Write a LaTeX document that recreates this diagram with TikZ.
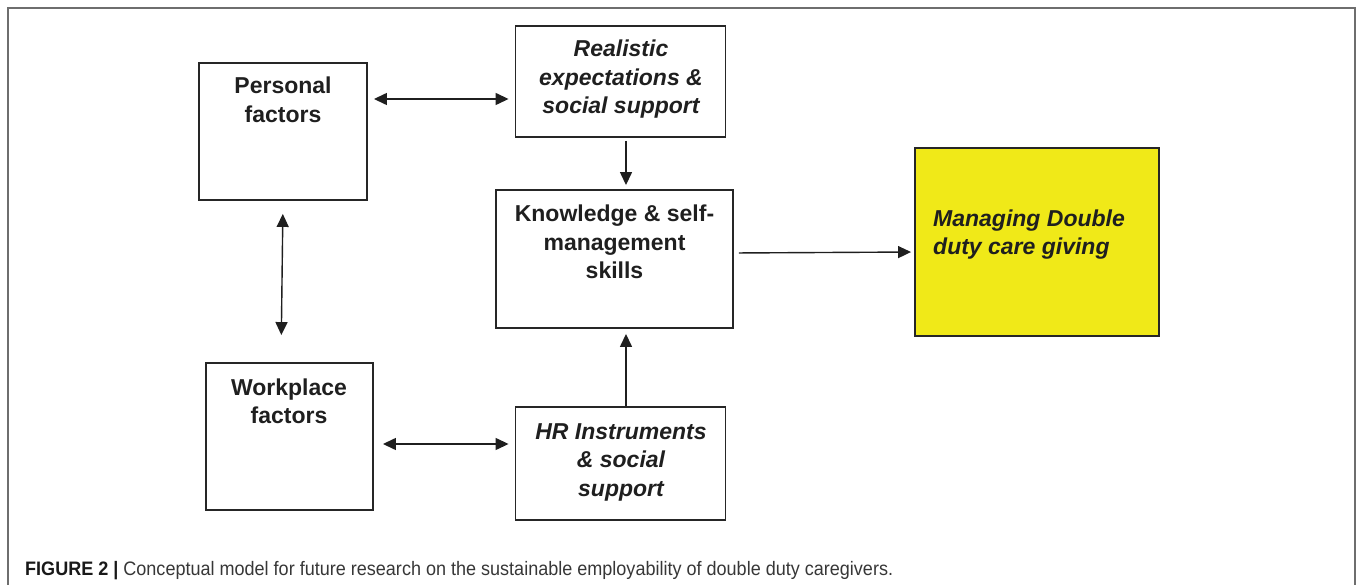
\documentclass[tikz,border=0pt]{standalone}
\usepackage{fontspec}
\setmainfont{Liberation Sans}
\usetikzlibrary{arrows.meta}
\definecolor{boxyellow}{RGB}{240,233,24}
\definecolor{framegray}{RGB}{110,110,110}
\definecolor{capgray}{RGB}{55,55,55}
\begin{document}
\begin{tikzpicture}[x=1pt,y=-1pt,
  box/.style={draw=black!85, line width=1.9pt, inner sep=0pt},
  lbl/.style={font=\fontsize{23}{28.5}\selectfont\bfseries, align=center, inner sep=0pt, text=black!88, anchor=north},
  ilbl/.style={lbl, font=\fontsize{23}{28.5}\selectfont\bfseries\itshape},
  tip/.tip={Triangle[length=13pt,width=12pt]},
  conn/.style={line width=1.4pt, draw=black!88, -tip},
  biconn/.style={line width=1.4pt, draw=black!88, tip-tip}]
\useasboundingbox (0,0) rectangle (1358,585);
% outer frame
\draw[framegray, line width=1.2pt] (8,586) -- (8,8) -- (1355,8) -- (1355,586);
% boxes
\node[box, minimum width=168pt, minimum height=137pt] (pers) at (283,131.5) {};
\node[box, minimum width=210pt, minimum height=111pt] (real) at (620.5,81.5) {};
\node[box, minimum width=237pt, minimum height=138pt] (know) at (614.5,259) {};
\node[box, fill=boxyellow, minimum width=244pt, minimum height=188pt] (mng) at (1037,242) {};
\node[box, minimum width=167pt, minimum height=147pt] (work) at (289.5,436.5) {};
\node[box, minimum width=210pt, minimum height=113pt] (hr) at (620.5,463.5) {};
% labels
\node[lbl] (persT) at (283,76.7) {Personal\\factors};
\node[ilbl] (realT) at (621,39.7) {Realistic\\expectations \&\\social support};
\node[lbl] (knowT) at (614.5,205) {Knowledge \& self-\\management\\skills};
\node[ilbl, anchor=north west, align=left] (mngT) at (933,209.4) {Managing Double\\duty care giving};
\node[lbl] (workT) at (289,378.4) {Workplace\\factors};
\node[ilbl] (hrT) at (621,423.4) {HR Instruments\\\& social\\support};
% connectors
\draw[biconn, shorten <=6pt, shorten >=6pt] (pers.east |- 0,99) -- (real.west |- 0,99);
\draw[conn, shorten <=3pt, shorten >=4pt] (real.south -| 626,0) -- (know.north -| 626,0);
\draw[biconn, shorten <=13pt, shorten >=27pt] (pers.south) -- (work.north -| 281,0);
\draw[conn, shorten <=5pt, shorten >=3pt] (know.east |- 0,253) -- (mng.west |- 0,252);
\draw[biconn, shorten <=9pt, shorten >=6pt] (work.east |- 0,444) -- (hr.west |- 0,444);
\draw[conn, shorten >=5pt] (hr.north -| 626,0) -- (know.south -| 626,0);
% caption
\node[anchor=base west, inner sep=0pt, text=capgray] (cap) at (25,575)
  {\resizebox{868pt}{\height}{\fontsize{19.5}{21}\selectfont\textbf{\color{black!90}FIGURE 2 |} Conceptual model for future research on the sustainable employability of double duty caregivers.}};
\end{tikzpicture}
\end{document}
